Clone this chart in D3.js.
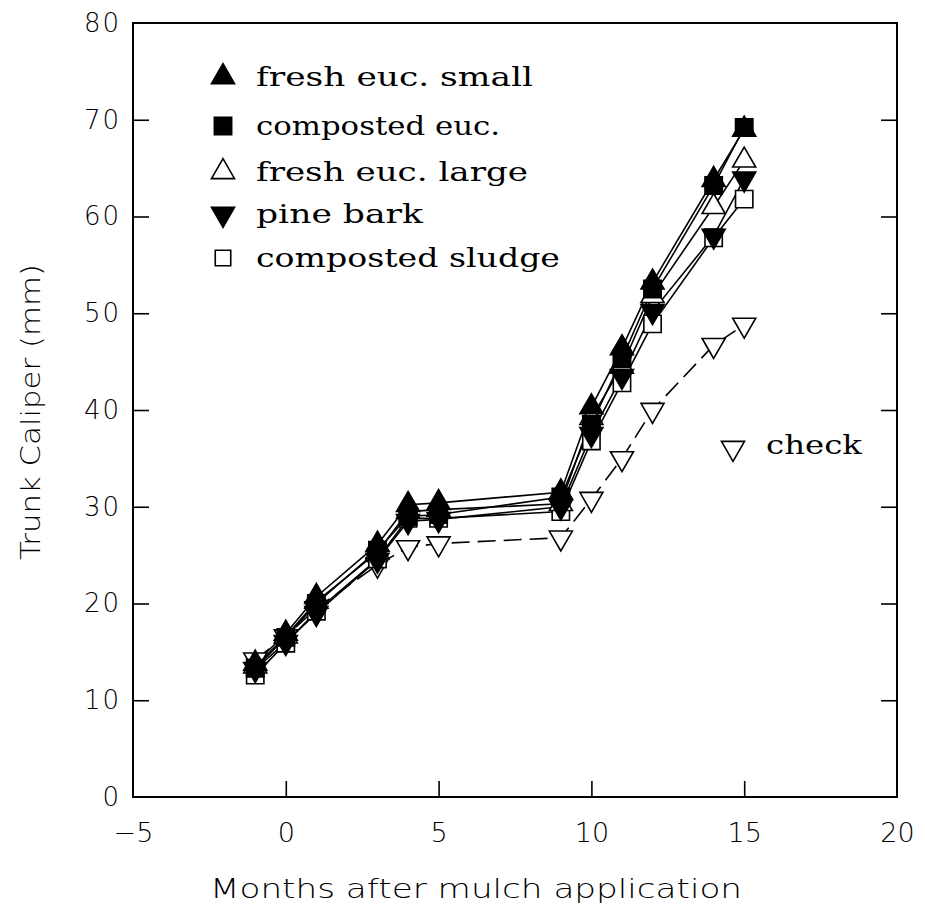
<!DOCTYPE html>
<html><head><meta charset="utf-8">
<script src="https://cdn.jsdelivr.net/npm/d3@7"></script>
<style>body{margin:0;background:#fff}</style>
</head><body>
<svg id="c" width="925" height="913"></svg>
<script>
const months = [-1, 0, 1, 3, 4, 5, 9, 10, 11, 12, 14, 15];
const freshEucSmall   = [13.8, 16.9, 20.7, 26.1, 30.2, 30.4, 31.5, 40.3, 46.4, 53.2, 63.8, 69.0];
const compostedEuc    = [13.3, 16.5, 20.0, 25.5, 29.0, 29.2, 31.0, 38.5, 45.3, 52.5, 63.2, 69.2];
const freshEucLarge   = [13.5, 16.6, 20.2, 25.3, 29.5, 29.7, 30.3, 39.2, 44.5, 51.8, 61.0, 65.8];
const pineBark        = [13.2, 16.0, 19.0, 24.5, 28.5, 28.7, 30.0, 37.5, 43.5, 50.2, 58.0, 63.9];
const compostedSludge = [12.6, 15.9, 19.2, 24.6, 28.8, 28.8, 29.5, 36.8, 42.8, 48.9, 57.8, 61.8];
const check           = [14.2, 16.6, 19.5, 24.0, 25.8, 26.2, 26.8, 30.8, 35.0, 40.0, 46.7, 48.8];
const seriesNames = ["fresh euc. small","composted euc.","fresh euc. large","pine bark","composted sludge","check"];
const xTicks = [-5, 0, 5, 10, 15, 20];
const yTicks = [0, 10, 20, 30, 40, 50, 60, 70, 80];

const series = [
  {name: seriesNames[5], values: check, shape: "down", fill: "#fff", dash: "18,8"},
  {name: seriesNames[4], values: compostedSludge, shape: "square", fill: "#fff", dash: null},
  {name: seriesNames[2], values: freshEucLarge, shape: "up", fill: "#fff", dash: null},
  {name: seriesNames[3], values: pineBark, shape: "down", fill: "#000", dash: null},
  {name: seriesNames[1], values: compostedEuc, shape: "square", fill: "#000", dash: null},
  {name: seriesNames[0], values: freshEucSmall, shape: "up", fill: "#000", dash: null}
];

const svg = d3.select("#c");
const L = 133, R = 897, T = 23, B = 797;
const x = d3.scaleLinear().domain([-5, 20]).range([L, R]);
const y = d3.scaleLinear().domain([0, 80]).range([B, T]);

const tri = d3.symbol().type(d3.symbolTriangle).size(230)();
const sq = d3.symbol().type(d3.symbolSquare).size(300)();
function marker(g, shape, fill) {
  const p = g.append("path")
    .attr("d", shape === "square" ? sq : tri)
    .attr("fill", fill).attr("stroke", "#000").attr("stroke-width", 1.6);
  if (shape === "down") p.attr("transform", "rotate(180)");
  return p;
}

const line = d3.line().x((d, i) => x(months[i])).y(d => y(d));
series.forEach(s => {
  svg.append("path").datum(s.values).attr("d", line)
    .attr("fill", "none").attr("stroke", "#000").attr("stroke-width", 1.6)
    .attr("stroke-dasharray", s.dash);
});
series.forEach(s => {
  s.values.forEach((v, i) => {
    const g = svg.append("g").attr("transform", `translate(${x(months[i])},${y(v)})`);
    marker(g, s.shape, s.fill);
  });
});

svg.append("rect").attr("x", L).attr("y", T).attr("width", R - L).attr("height", B - T)
  .attr("fill", "none").attr("stroke", "#000").attr("stroke-width", 2);

const yAxisL = d3.axisLeft(y).tickValues(yTicks).tickSizeInner(-16).tickSizeOuter(0).tickPadding(14);
const gy = svg.append("g").attr("transform", `translate(${L},0)`).call(yAxisL);
gy.select(".domain").remove();
gy.selectAll(".tick line").attr("stroke-width", 1.6).filter(d => d === 0 || d === 80).remove();
gy.selectAll(".tick text").attr("font-family", "DejaVu Sans").attr("font-weight", 200).attr("font-size", 26)
  .attr("letter-spacing", 2).attr("fill", "#000").attr("dx", 2);

const yAxisR = d3.axisRight(y).tickValues(yTicks.filter(d => d > 0 && d < 80)).tickSizeInner(-16).tickSizeOuter(0).tickFormat("");
const gyr = svg.append("g").attr("transform", `translate(${R},0)`).call(yAxisR);
gyr.select(".domain").remove();
gyr.selectAll(".tick line").attr("stroke-width", 1.6);

const xAxis = d3.axisBottom(x).tickValues(xTicks).tickSizeInner(-16).tickSizeOuter(0).tickPadding(26)
  .tickFormat(d => d < 0 ? "\u2212" + Math.abs(d) : d);
const gx = svg.append("g").attr("transform", `translate(0,${B})`).call(xAxis);
gx.select(".domain").remove();
gx.selectAll(".tick line").attr("stroke-width", 1.6).filter(d => d === -5 || d === 20).remove();
gx.selectAll(".tick text").attr("font-family", "DejaVu Sans").attr("font-size", 27)
  .attr("font-weight", 200).attr("fill", "#000");

svg.append("text").attr("x", 476).attr("y", 898).attr("text-anchor", "middle")
  .attr("font-family", "DejaVu Sans").attr("font-weight", 200).attr("font-size", 27)
  .attr("textLength", 532).attr("lengthAdjust", "spacingAndGlyphs")
  .text("Months after mulch application");
svg.append("text").attr("transform", "translate(40,412) rotate(-90)").attr("text-anchor", "middle")
  .attr("font-family", "DejaVu Sans").attr("font-weight", 200).attr("font-size", 27)
  .attr("textLength", 296).attr("lengthAdjust", "spacingAndGlyphs")
  .text("Trunk Caliper (mm)");

const legendOrder = [
  {name: seriesNames[0], shape: "up", fill: "#000", yy: 77, w: 277},
  {name: seriesNames[1], shape: "square", fill: "#000", yy: 126, w: 244},
  {name: seriesNames[2], shape: "up", fill: "#fff", yy: 172, w: 272},
  {name: seriesNames[3], shape: "down", fill: "#000", yy: 214, w: 167},
  {name: seriesNames[4], shape: "square", fill: "#fff", yy: 258, w: 304}
];
legendOrder.forEach(d => {
  const g = svg.append("g").attr("transform", `translate(223,${d.yy})`);
  const m = marker(g, d.shape, d.fill);
  if (d.fill === "#fff" && d.shape === "square") m.attr("d", d3.symbol().type(d3.symbolSquare).size(240)());
  svg.append("text").attr("x", 256).attr("y", d.yy + 9)
    .attr("font-family", "DejaVu Serif").attr("font-size", 26)
    .attr("textLength", d.w).attr("lengthAdjust", "spacingAndGlyphs")
    .text(d.name);
});
const gc = svg.append("g").attr("transform", "translate(733,448)");
marker(gc, "down", "#fff");
svg.append("text").attr("x", 766).attr("y", 454)
  .attr("font-family", "DejaVu Serif").attr("font-size", 26)
  .attr("textLength", 96).attr("lengthAdjust", "spacingAndGlyphs")
  .text(seriesNames[5]);
</script>
</body></html>
